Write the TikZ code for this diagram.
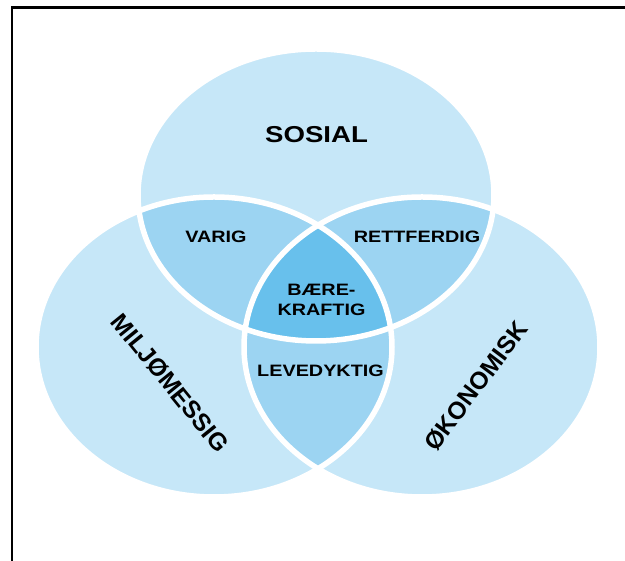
\documentclass[tikz,border=0pt]{standalone}
\usepackage{xcolor}
\usepackage{fontspec}
\setmainfont{Liberation Sans}
\usepackage{tikz}

\definecolor{venn1}{RGB}{198,231,248}
\definecolor{venn2}{RGB}{156,212,242}
\definecolor{venn3}{RGB}{104,192,236}

\newcommand{\sosialoval}{(316,366) ellipse [x radius=178, y radius=146]}
\newcommand{\miljooval}{(214,214) ellipse [x radius=178, y radius=150]}
\newcommand{\okonoval}{(422,214) ellipse [x radius=178, y radius=150]}

\begin{document}
\begin{tikzpicture}[x=1pt, y=1pt,
        big/.style={font=\bfseries\fontsize{23}{23}\selectfont, xscale=1.2, inner sep=0pt},
        slanted/.style={font=\bfseries\fontsize{24.5}{24.5}\selectfont, inner sep=0pt},
        small/.style={font=\bfseries\fontsize{16.5}{20.5}\selectfont, xscale=1.2, inner sep=0pt, align=center},
        sep/.style={draw=white, line width=5.5pt}]
            \useasboundingbox (0,0) rectangle (625,561);
            \fill[venn1] \sosialoval;
            \fill[venn1] \miljooval;
            \fill[venn1] \okonoval;
            \begin{scope}
                \clip \sosialoval;
                \fill[venn2] \miljooval;
                \fill[venn2] \okonoval;
            \end{scope}
            \begin{scope}
                \clip \miljooval;
                \fill[venn2] \okonoval;
                \clip \okonoval;
                \fill[venn3] \sosialoval;
            \end{scope}
            \draw[sep] \sosialoval;
            \draw[sep] \miljooval;
            \draw[sep] \okonoval;
            \draw[line width=2.3pt] (12,-5) -- (12,553.5) -- (630,553.5);
            \node[big] (sosial) at (316.5,426) {SOSIAL};
            \node[slanted, rotate=-51] (miljo) at (170,178) {MILJØMESSIG};
            \node[slanted, rotate=53] (okonomisk) at (476,175) {ØKONOMISK};
            \node[small] (varig) at (216,324) {VARIG};
            \node[small] (rettferdig) at (417,324) {RETTFERDIG};
            \node[small] (baerekraftig) at (321.5,261) {BÆRE-\\KRAFTIG};
            \node[small] (levedyktig) at (320.5,190) {LEVEDYKTIG};
        \end{tikzpicture}
\end{document}
